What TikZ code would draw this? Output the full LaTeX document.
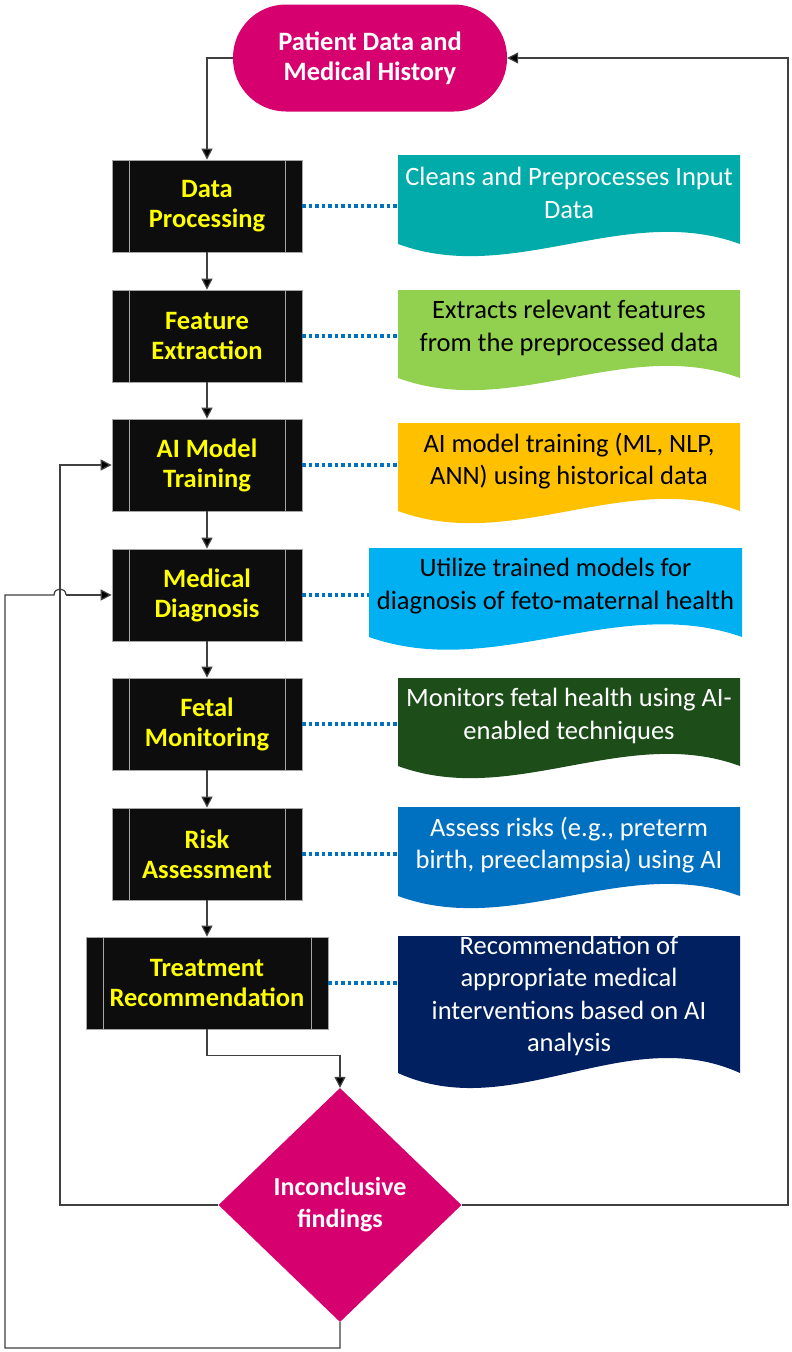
\documentclass[tikz,border=0pt]{standalone}
\usepackage{fontspec}
\setmainfont{Carlito}
\usetikzlibrary{arrows.meta,shapes.geometric,calc}
\definecolor{mag}{HTML}{D6006E}
\definecolor{procfill}{HTML}{0D0D0D}
\definecolor{procedge}{HTML}{A6A6A6}
\definecolor{lbl}{HTML}{FFFF00}
\definecolor{conn}{HTML}{404040}
\definecolor{dotblue}{HTML}{0070C0}
\definecolor{cteal}{HTML}{00ABA9}
\definecolor{cgreen}{HTML}{92D050}
\definecolor{cgold}{HTML}{FFC000}
\definecolor{ccyan}{HTML}{00B0F0}
\definecolor{cdkgreen}{HTML}{1D4E1A}
\definecolor{cblue}{HTML}{0070C0}
\definecolor{cnavy}{HTML}{002060}
% #1 left, #2 right, #3 top, #4 bottom, #5 wave depth, #6 colour
\newcommand\wavefill[6]{\fill[#6] (#1,#3) -- (#2,#3) -- (#2,#4) .. controls ({#1+2*(#2-#1)/3},#4-#5) and ({#1+(#2-#1)/3},#4+#5) .. (#1,#4) -- cycle;}
\begin{document}
\begin{tikzpicture}[x=1pt,y=-1pt,
  proc/.style={draw=procedge,fill=procfill,line width=0.8pt,minimum width=190pt,minimum height=92pt,
    align=center,text=lbl,font=\fontsize{26.5}{30}\selectfont\bfseries,inner sep=0pt,
    path picture={\draw[procedge,line width=0.8pt] ([xshift=17pt]path picture bounding box.north west) -- ([xshift=17pt]path picture bounding box.south west);
      \draw[procedge,line width=0.8pt] ([xshift=-17pt]path picture bounding box.north east) -- ([xshift=-17pt]path picture bounding box.south east);}},
  term/.style={rectangle,rounded corners=53pt,minimum width=274pt,minimum height=107pt,fill=mag,text=white,
    align=center,font=\fontsize{26.5}{30}\selectfont\bfseries,inner sep=0pt},
  dia/.style={diamond,fill=mag,minimum width=243pt,minimum height=234pt,inner sep=0pt,text=white,
    align=center,font=\fontsize{26}{32}\selectfont\bfseries},
  tb/.style={align=center,minimum width=342pt,inner sep=0pt,font=\fontsize{26.5}{32.5}\selectfont},
  arr/.style={draw=conn,line width=1.2pt,-{Triangle[width=11pt,length=11pt,fill=black]}},
  ln/.style={draw=conn,line width=1.2pt},
  dot/.style={draw=dotblue,line width=3.5pt,dash pattern=on 3.5pt off 3pt}
]
\useasboundingbox (0,0) rectangle (792,1352);
\fill[white] (0,0) rectangle (792,1352);

% terminator
\node[term] (term) at (370,58) {Patient Data and\\Medical History};

% process boxes
\node[proc] (p1) at (207,206) {Data\\Processing};
\node[proc] (p2) at (207,336) {Feature\\Extraction};
\node[proc] (p3) at (207,465) {AI Model\\Training};
\node[proc] (p4) at (207,595) {Medical\\Diagnosis};
\node[proc] (p5) at (207,724) {Fetal\\Monitoring};
\node[proc] (p6) at (207,854) {Risk\\Assessment};
\node[proc,minimum width=242pt] (p7) at (207,983) {Treatment\\Recommendation};

% decision
\node[dia] (dia) at (340,1205) {Inconclusive\\findings};

% text boxes
\wavefill{398}{740}{155}{244}{42}{cteal}
\node[tb,text=white] (t1) at (569,193) {Cleans and Preprocesses Input\\Data};
\wavefill{398}{740}{290}{378}{42}{cgreen}
\node[tb,text=black] (t2) at (569,328) {Extracts relevant features\\from the preprocessed data};
\wavefill{398}{740}{423}{511}{42}{cgold}
\node[tb,text=black] (t3) at (569,461) {AI model training (ML, NLP,\\ANN) using historical data};
\wavefill{369}{742}{548}{637}{44}{ccyan}
\node[tb,text=black,minimum width=373pt] (t4) at (555.5,586) {Utilize trained models for\\diagnosis of feto-maternal health};
\wavefill{398}{740}{678}{766}{42}{cdkgreen}
\node[tb,text=white] (t5) at (569,716) {Monitors fetal health using AI-\\enabled techniques};
\wavefill{398}{740}{807}{896}{42}{cblue}
\node[tb,text=white] (t6) at (569,845) {Assess risks (e.g., preterm\\birth, preeclampsia) using AI};
\wavefill{398}{740}{936}{1073}{52}{cnavy}
\node[tb,text=white] (t7) at (569,996) {Recommendation of\\appropriate medical\\interventions based on AI\\analysis};

% dotted links
\foreach \i in {1,...,7} {\draw[dot] (p\i.east) -- (p\i.east -| t\i.west);}

% main flow
\draw[arr] (term.west) -| (p1.north);
\draw[arr] (p1.south) -- (p2.north);
\draw[arr] (p2.south) -- (p3.north);
\draw[arr] (p3.south) -- (p4.north);
\draw[arr] (p4.south) -- (p5.north);
\draw[arr] (p5.south) -- (p6.north);
\draw[arr] (p6.south) -- (p7.north);
\draw[arr] (p7.south) -- ++(0,26) -| (dia.north);

% feedback loops
\coordinate (l1) at (60,1205);
\draw[arr] (dia.west) -- (l1) |- (p3.west);
\coordinate (l2) at (5,1348);
\coordinate (j1) at (54,595);
\coordinate (j2) at (66,595);
\draw[ln] (dia.south) |- (l2) |- (j1) .. controls (54,587) and (66,587) .. (j2);
\draw[arr] (j2) -- (p4.west);
\coordinate (r1) at (788,1205);
\draw[arr] (dia.east) -- (r1) |- (term.east);
\end{tikzpicture}
\end{document}
